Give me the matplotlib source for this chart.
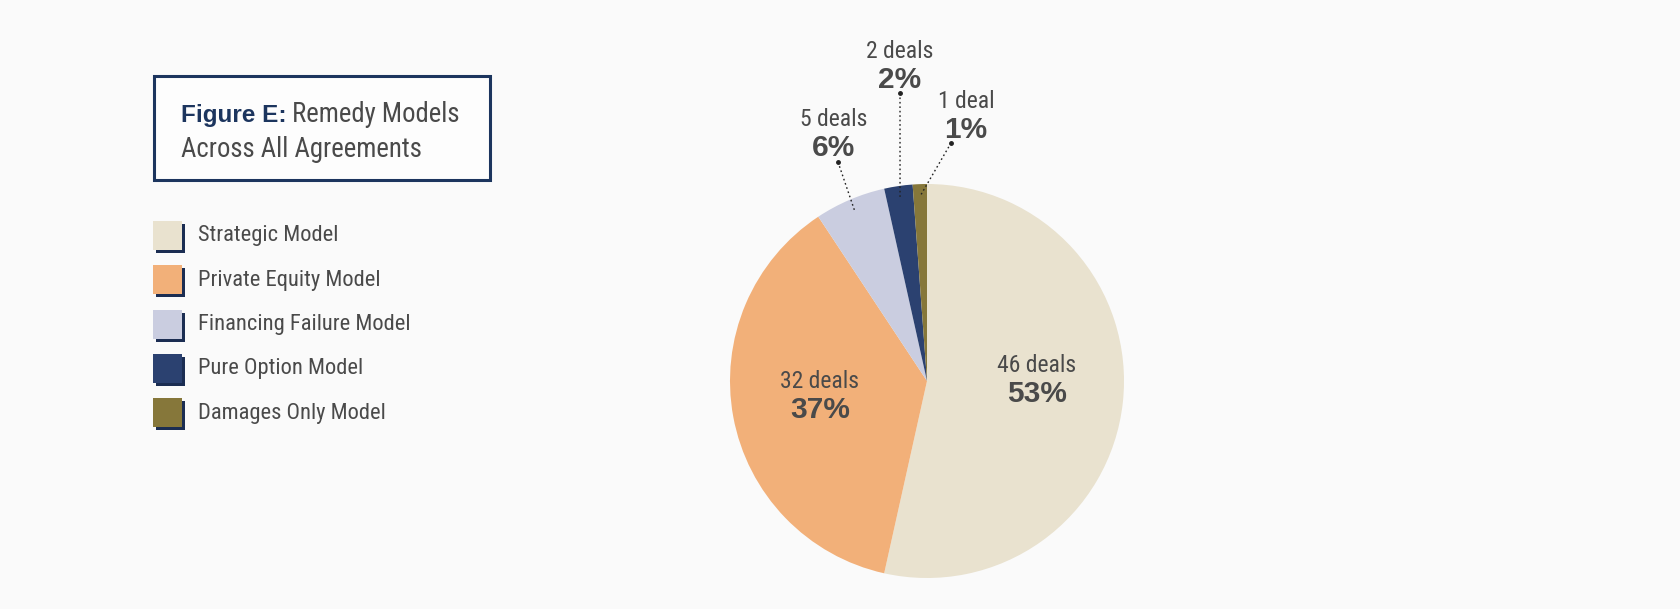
import matplotlib
matplotlib.use("Agg")
import matplotlib.pyplot as plt
from matplotlib import font_manager
from matplotlib.patches import Rectangle
import numpy as np

# remedy model counts across all agreements
models = ["Strategic Model", "Private Equity Model", "Financing Failure Model",
          "Pure Option Model", "Damages Only Model"]
deals = [46, 32, 5, 2, 1]
pct_labels = ["53%", "37%", "6%", "2%", "1%"]
deal_labels = ["46 deals", "32 deals", "5 deals", "2 deals", "1 deal"]
colors = ["#e9e2cf", "#f2b079", "#cacde0", "#2b4170", "#86773a"]

# narrow sans for body text, first one that is installed
names = {f.name for f in font_manager.fontManager.ttflist}
prefs = ["Roboto Condensed", "Liberation Sans Narrow", "Archivo Narrow",
         "PT Sans Narrow", "Fira Sans Condensed", "Barlow Semi Condensed"]
FONT = next((f for f in prefs if f in names), "Liberation Sans")
BOLD = ["Liberation Sans", "DejaVu Sans"]
plt.rcParams["font.family"] = [FONT, "DejaVu Sans"]

W, H = 1681, 609
BG = "#fafafa"
GREY = "#4a4a4a"
NAVY = "#1c355e"

fig = plt.figure(figsize=(W / 100, H / 100), dpi=100, facecolor=BG)

# pie in its own axes so its geometry stays circular
cx, cy, R = 927, 381, 197
pax = fig.add_axes([(cx - R) / W, 1 - (cy + R) / H, 2 * R / W, 2 * R / H])
pax.set_facecolor("none")
wedges, _ = pax.pie(deals, colors=colors, startangle=90, counterclock=False,
                    radius=1, wedgeprops=dict(linewidth=0))
pax.set_xlim(-1, 1)
pax.set_ylim(-1, 1)
pax.axis("off")

# overlay axes in pixel units for text, legend and leaders
ax = fig.add_axes([0, 0, 1, 1])
ax.set_zorder(2)
ax.set_xlim(0, W)
ax.set_ylim(H, 0)
ax.axis("off")

# title box
ax.add_patch(Rectangle((154, 76), 336, 104, fill=True, facecolor="#fdfdfd",
                       edgecolor=NAVY, lw=2.2))
t1 = ax.text(181, 122, "Figure E:", fontsize=17.5, fontweight="bold", color=NAVY,
             va="baseline", family=BOLD)
fig.canvas.draw()
bb = t1.get_window_extent().transformed(ax.transData.inverted())
ax.text(bb.x1 + 5, 122, "Remedy Models", fontsize=19.3, color=GREY, va="baseline")
ax.text(181, 157, "Across All Agreements", fontsize=19.3, color=GREY, va="baseline")

# legend squares with a navy drop shadow
for i, (name, c) in enumerate(zip(models, colors)):
    y0 = 221 + i * 44.3
    ax.add_patch(Rectangle((156, y0 + 3), 29, 29, facecolor="#1b2d52", lw=0))
    ax.add_patch(Rectangle((153, y0), 29, 29, facecolor=c, lw=0))
    ax.text(198, y0 + 15, name, fontsize=16.2, color=GREY, va="center")


def slice_label(i, x, y):
    ax.text(x, y, deal_labels[i], fontsize=17, color=GREY, ha="center", va="center")
    ax.text(x, y + 28, pct_labels[i], fontsize=21.5, fontweight="bold", color=GREY,
            ha="center", va="center", family=BOLD)


# labels inside the two large slices
inside = {0: (1037, 366), 1: (820, 382)}
for i, (x, y) in inside.items():
    slice_label(i, x, y)

# small slices: labels above the pie with dotted leaders
outside = {2: (834, 120, 838, 162), 3: (900, 52, 900, 93), 4: (966, 102, 951, 143)}
total = sum(deals)
start = 90.0
mids = []
for d in deals:
    span = 360.0 * d / total
    mids.append(start - span / 2)
    start -= span
for i, (x, y, dx, dy) in outside.items():
    slice_label(i, x, y)
    a = np.deg2rad(mids[i])
    ex, ey = cx + 0.94 * R * np.cos(a), cy - 0.94 * R * np.sin(a)
    ax.plot([dx, ex], [dy, ey], ls=(0, (1.2, 2)), color="#222222", lw=1)
    ax.plot(dx, dy, "o", ms=2.5, color="#222222")

fig.savefig("out.png", dpi=100, facecolor=BG)
